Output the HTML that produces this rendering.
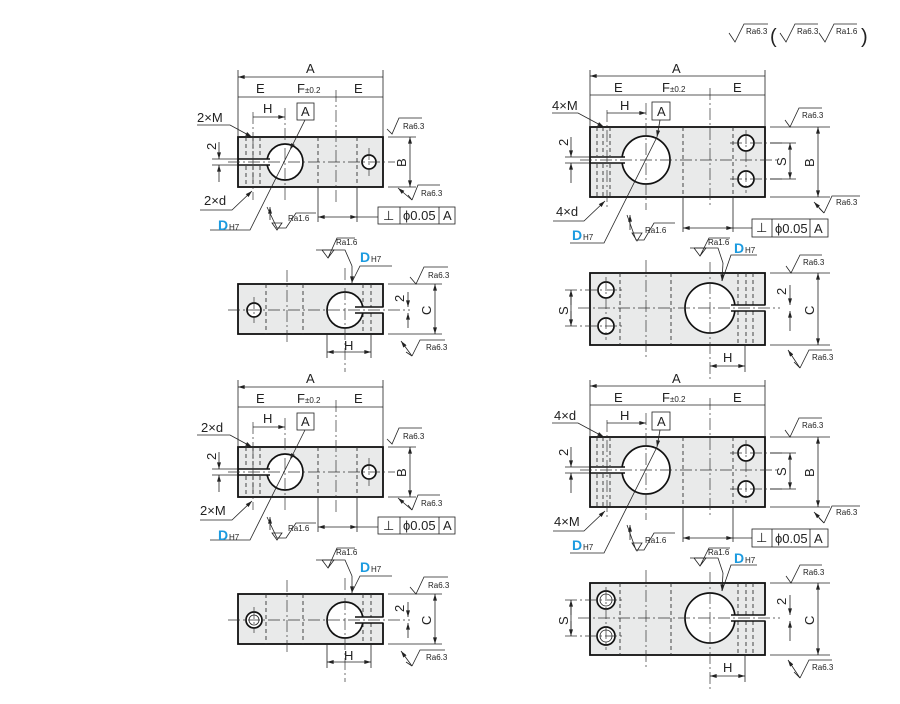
<!DOCTYPE html>
<html><head><meta charset="utf-8"><style>
html,body{margin:0;padding:0;background:#fff}
svg{display:block}
text{font-family:"Liberation Sans",sans-serif;fill:#222}
.b{fill:#e9eaea;stroke:#111;stroke-width:1.8}
.w{fill:#fff;stroke:#111;stroke-width:1.7}
.ws{fill:#fff;stroke:none}
.l{stroke:#222;stroke-width:0.8;fill:none}
.k{stroke:#111;stroke-width:1.6;fill:none}
.dh{stroke:#333;stroke-width:0.9;stroke-dasharray:4 3;fill:none}
.cl{stroke:#333;stroke-width:0.7;stroke-dasharray:12 3 2 3;fill:none}
.d{stroke:#222;stroke-width:0.8;fill:none;marker-start:url(#a);marker-end:url(#a)}
.de{stroke:#222;stroke-width:0.8;fill:none;marker-end:url(#a)}
.t{font-size:13px}
.s{font-size:8px}
.D{fill:#1b9be0;font-weight:bold;font-size:14px}
</style></head><body>
<svg width="900" height="704" viewBox="0 0 900 704" xmlns="http://www.w3.org/2000/svg">
<defs><marker id="a" viewBox="0 0 10 6" refX="10" refY="3" markerWidth="7" markerHeight="4" orient="auto-start-reverse" markerUnits="userSpaceOnUse"><path d="M0,0L10,3L0,6Z" fill="#222"/></marker></defs>

<path class="l" d="M729,33 L735,42 L744,24 H768"/><text class="s" x="746" y="34">Ra6.3</text>
<text x="770" y="43" style="font-size:20px">(</text>
<path class="l" d="M780,33 L786,42 L795,24 H818"/><text class="s" x="797" y="34">Ra6.3</text>
<path class="l" d="M819,33 L825,42 L834,24 H857"/><text class="s" x="836" y="34">Ra1.6</text>
<text x="861" y="43" style="font-size:20px">)</text>

<g id="L1">
<rect class="b" x="238" y="137" width="145" height="50"/>
<path class="dh" d="M246,137V158M253,137V158M260,137V158M246,166V187M253,166V187M260,166V187M318,137V187M357,137V187"/>
<circle class="w" cx="285" cy="162" r="18"/>
<rect class="ws" x="239" y="159.5" width="32" height="5"/>
<path class="k" d="M238,159H270M238,165H270"/>
<circle class="w" cx="369" cy="162" r="7"/>
<path class="cl" d="M228,162H395M285,108V200M336,90V205M253,112V200M369,148V176"/>
<path class="l" d="M238,70V137M383,70V137M318,187V222M357,187V222"/>
<path class="d" d="M238,77H383M238,97H285M285,97H336M336,97H383M253,117H285"/>
<text class="t" x="306" y="73">A</text><text class="t" x="256" y="93">E</text>
<text class="t" x="297" y="93">F<tspan class="s" font-size="9">±0.2</tspan></text><text class="t" x="354" y="93">E</text>
<text class="t" x="263" y="113">H</text>
<rect class="l" x="297" y="103" width="17" height="17"/><text class="t" x="301" y="116">A</text>
<path class="de" d="M305,120L290,150"/><path class="l" d="M290,150L250,230H210"/>
<text class="t" x="197" y="122">2×M</text><path class="de" d="M197,125H230L252,137"/>
<text class="t" x="204" y="205">2×d</text><path class="de" d="M200,210H232L252,191"/>
<text class="D" x="218" y="230">D</text><text class="s" x="229" y="230" font-size="9">H7</text>
<path class="de" d="M270,220V207"/><path class="l" d="M267,207L277,228H286L296,213H316M272,223H282L277,230Z"/>
<text class="s" x="288" y="221">Ra1.6</text>
<path class="l" d="M212,159H238M212,165H238"/>
<path class="de" d="M219,142V159"/><path class="de" d="M219,182V165"/>
<text class="t" transform="translate(216,150) rotate(-90)">2</text>
<path class="l" d="M388,137H416M388,187H416"/><path class="d" d="M410,137V187"/>
<text class="t" transform="translate(406,167) rotate(-90)">B</text>
<path class="l" d="M387,129L392,134L399,118H422"/><text class="s" x="403" y="129">Ra6.3</text>
<path class="de" d="M412,200L398,188"/><path class="l" d="M412,200L408,195M412,200L418,185H440"/><text class="s" x="421" y="196">Ra6.3</text>
<path class="d" d="M318,217H357"/><path class="l" d="M357,217H378"/>
<rect class="l" x="378" y="207" width="77" height="17"/><path class="l" d="M400,207V224M439,207V224"/>
<text class="t" x="383" y="220">⊥</text><text class="t" x="403" y="220">ϕ0.05</text><text class="t" x="443" y="220">A</text>
<rect class="b" x="238" y="284" width="145" height="50"/>
<path class="dh" d="M266,284V334M303,284V334M363,284V307M371,284V307M363,313V334M371,313V334"/>
<circle class="w" cx="345" cy="310" r="18"/>
<rect class="ws" x="354" y="307.5" width="30" height="5"/>
<path class="k" d="M355,307H383M355,313H383"/>
<circle class="w" cx="254" cy="310" r="7"/>
<path class="cl" d="M228,310H410M287,270V345M345,268V372M254,297V323"/>
<path class="l" d="M327,334V358M371,334V358"/><path class="d" d="M327,352H371"/><text class="t" x="344" y="350">H</text>
<path class="l" d="M388,284H442M388,334H442"/><path class="d" d="M435,284V334"/>
<text class="t" transform="translate(431,315) rotate(-90)">C</text>
<path class="de" d="M408,292V307"/><path class="de" d="M408,328V313"/>
<text class="t" transform="translate(404,302) rotate(-90)">2</text>
<path class="l" d="M410,277L416,284L424,267H448"/><text class="s" x="428" y="278">Ra6.3</text>
<path class="de" d="M412,356L401,341"/><path class="l" d="M412,356L406,352M412,356L420,340H445"/><text class="s" x="426" y="350">Ra6.3</text>
<path class="l" d="M316,250H345L352,266"/><path class="de" d="M352,266L352,283"/>
<path class="l" d="M322,250L328,258L337,238H355M322,250H334L328,258"/><text class="s" x="336" y="245">Ra1.6</text>
<path class="l" d="M352,282L360,266H392"/>
<text class="D" x="360" y="262">D</text><text class="s" x="371" y="262" font-size="9">H7</text>
</g>

<g id="R1">
<rect class="b" x="590" y="127" width="175" height="70"/>
<path class="dh" d="M597,127V156M603,127V156M610,127V156M597,164V197M603,164V197M610,164V197M683,127V197M733,127V197"/>
<circle class="w" cx="646" cy="160" r="24"/>
<rect class="ws" x="591" y="157.5" width="36" height="5"/>
<path class="k" d="M590,157H625M590,163H625"/>
<circle class="w" cx="746" cy="143" r="8"/><circle class="w" cx="746" cy="179" r="8"/>
<path class="cl" d="M580,160H780M646,103V210M710,88V208M607,110V210M730,143H782M730,179H782M746,130V193"/>
<path class="l" d="M590,70V127M765,70V127M683,197V232M733,197V232"/>
<path class="d" d="M590,76H765M590,95H646M646,95H710M710,95H765M607,113H646"/>
<text class="t" x="672" y="73">A</text><text class="t" x="614" y="92">E</text>
<text class="t" x="662" y="92">F<tspan class="s" font-size="9">±0.2</tspan></text><text class="t" x="733" y="92">E</text>
<text class="t" x="620" y="110">H</text>
<rect class="l" x="652" y="102" width="18" height="18"/><text class="t" x="657" y="116">A</text>
<path class="de" d="M660,120L657,137"/><path class="l" d="M657,137L604,243H570"/>
<text class="t" x="552" y="110">4×M</text><path class="de" d="M552,113H578L604,127"/>
<text class="t" x="556" y="216">4×d</text>
<path class="de" d="M553,221H584L605,201"/>
<text class="D" x="572" y="240">D</text><text class="s" x="583" y="240" font-size="9">H7</text>
<path class="de" d="M630,230V215"/><path class="l" d="M627,215L636,240H644L654,223H675M632,233H642L637,241Z"/>
<text class="s" x="645" y="233">Ra1.6</text>
<path class="l" d="M565,157H590M565,163H590"/>
<path class="de" d="M571,137V157"/><path class="de" d="M571,183V163"/>
<text class="t" transform="translate(568,146) rotate(-90)">2</text>
<path class="l" d="M770,127H830M770,197H830M770,143H796M770,179H796"/><path class="d" d="M818,127V197"/><path class="d" d="M790,143V179"/>
<text class="t" transform="translate(814,167) rotate(-90)">B</text>
<text class="t" transform="translate(786,166) rotate(-90)">S</text>
<path class="l" d="M785,120L790,127L799,108H822"/><text class="s" x="802" y="118">Ra6.3</text>
<path class="de" d="M824,213L814,202"/><path class="l" d="M824,213L819,208M824,213L832,196H860"/><text class="s" x="836" y="205">Ra6.3</text>
<path class="d" d="M683,228H733"/><path class="l" d="M733,228H752"/>
<rect class="l" x="752" y="219" width="76" height="18"/><path class="l" d="M772,219V237M810,219V237"/>
<text class="t" x="756" y="232">⊥</text><text class="t" x="775" y="233">ϕ0.05</text><text class="t" x="814" y="233">A</text>
<rect class="b" x="590" y="273" width="175" height="72"/>
<path class="dh" d="M620,273V345M671,273V345M738,273V305M746,273V305M753,273V305M738,311V345M746,311V345M753,311V345"/>
<circle class="w" cx="710" cy="308" r="25"/>
<rect class="ws" x="729" y="305.5" width="37" height="5"/>
<path class="k" d="M731,305H765M731,311H765"/>
<circle class="w" cx="606" cy="290" r="8"/><circle class="w" cx="606" cy="326" r="8"/>
<path class="cl" d="M578,308H780M646,260V358M710,262V380M606,277V340M565,290H625M565,326H625"/>
<path class="de" d="M571,305V290"/><path class="de" d="M571,311V326"/><path class="l" d="M571,290V326"/>
<text class="t" transform="translate(568,315) rotate(-90)">S</text>
<path class="l" d="M745,345V372"/><path class="d" d="M710,366H745"/><text class="t" x="723" y="362">H</text>
<path class="l" d="M770,273H830M770,345H830"/><path class="d" d="M818,273V345"/>
<text class="t" transform="translate(814,315) rotate(-90)">C</text>
<path class="de" d="M790,285V305"/><path class="de" d="M790,331V311"/>
<text class="t" transform="translate(786,295) rotate(-90)">2</text>
<path class="l" d="M786,266L791,273L800,255H822"/><text class="s" x="803" y="265">Ra6.3</text>
<path class="de" d="M800,368L788,350"/><path class="l" d="M800,368L794,362M800,368L809,350H832"/><text class="s" x="812" y="360">Ra6.3</text>
<path class="l" d="M694,248L700,256L709,238H730M694,248H706L700,256"/><text class="s" x="708" y="245">Ra1.6</text>
<path class="l" d="M690,248H718L723,263"/><path class="de" d="M723,263L722,281"/>
<path class="l" d="M722,281L731,255H757"/>
<text class="D" x="734" y="253">D</text><text class="s" x="745" y="253" font-size="9">H7</text>
</g>

<g transform="translate(0,310)">
<rect class="b" x="238" y="137" width="145" height="50"/>
<path class="dh" d="M246,137V158M253,137V158M260,137V158M246,166V187M253,166V187M260,166V187M318,137V187M357,137V187"/>
<circle class="w" cx="285" cy="162" r="18"/>
<rect class="ws" x="239" y="159.5" width="32" height="5"/>
<path class="k" d="M238,159H270M238,165H270"/>
<circle class="w" cx="369" cy="162" r="7"/>
<path class="cl" d="M228,162H395M285,108V200M336,90V205M253,112V200M369,148V176"/>
<path class="l" d="M238,70V137M383,70V137M318,187V222M357,187V222"/>
<path class="d" d="M238,77H383M238,97H285M285,97H336M336,97H383M253,117H285"/>
<text class="t" x="306" y="73">A</text><text class="t" x="256" y="93">E</text>
<text class="t" x="297" y="93">F<tspan class="s" font-size="9">±0.2</tspan></text><text class="t" x="354" y="93">E</text>
<text class="t" x="263" y="113">H</text>
<rect class="l" x="297" y="103" width="17" height="17"/><text class="t" x="301" y="116">A</text>
<path class="de" d="M305,120L290,150"/><path class="l" d="M290,150L250,230H210"/>
<text class="t" x="201" y="122">2×d</text><path class="de" d="M197,125H230L252,137"/>
<text class="t" x="200" y="205">2×M</text><path class="de" d="M200,210H232L252,191"/>
<text class="D" x="218" y="230">D</text><text class="s" x="229" y="230" font-size="9">H7</text>
<path class="de" d="M270,220V207"/><path class="l" d="M267,207L277,228H286L296,213H316M272,223H282L277,230Z"/>
<text class="s" x="288" y="221">Ra1.6</text>
<path class="l" d="M212,159H238M212,165H238"/>
<path class="de" d="M219,142V159"/><path class="de" d="M219,182V165"/>
<text class="t" transform="translate(216,150) rotate(-90)">2</text>
<path class="l" d="M388,137H416M388,187H416"/><path class="d" d="M410,137V187"/>
<text class="t" transform="translate(406,167) rotate(-90)">B</text>
<path class="l" d="M387,129L392,134L399,118H422"/><text class="s" x="403" y="129">Ra6.3</text>
<path class="de" d="M412,200L398,188"/><path class="l" d="M412,200L408,195M412,200L418,185H440"/><text class="s" x="421" y="196">Ra6.3</text>
<path class="d" d="M318,217H357"/><path class="l" d="M357,217H378"/>
<rect class="l" x="378" y="207" width="77" height="17"/><path class="l" d="M400,207V224M439,207V224"/>
<text class="t" x="383" y="220">⊥</text><text class="t" x="403" y="220">ϕ0.05</text><text class="t" x="443" y="220">A</text>
<rect class="b" x="238" y="284" width="145" height="50"/>
<path class="dh" d="M266,284V334M303,284V334M363,284V307M371,284V307M363,313V334M371,313V334"/>
<circle class="w" cx="345" cy="310" r="18"/>
<rect class="ws" x="354" y="307.5" width="30" height="5"/>
<path class="k" d="M355,307H383M355,313H383"/>
<circle class="w" cx="254" cy="310" r="8"/><circle class="l" cx="254" cy="310" r="5"/>
<path class="cl" d="M228,310H410M287,270V345M345,268V372M254,297V323"/>
<path class="l" d="M327,334V358M371,334V358"/><path class="d" d="M327,352H371"/><text class="t" x="344" y="350">H</text>
<path class="l" d="M388,284H442M388,334H442"/><path class="d" d="M435,284V334"/>
<text class="t" transform="translate(431,315) rotate(-90)">C</text>
<path class="de" d="M408,292V307"/><path class="de" d="M408,328V313"/>
<text class="t" transform="translate(404,302) rotate(-90)">2</text>
<path class="l" d="M410,277L416,284L424,267H448"/><text class="s" x="428" y="278">Ra6.3</text>
<path class="de" d="M412,356L401,341"/><path class="l" d="M412,356L406,352M412,356L420,340H445"/><text class="s" x="426" y="350">Ra6.3</text>
<path class="l" d="M316,250H345L352,266"/><path class="de" d="M352,266L352,283"/>
<path class="l" d="M322,250L328,258L337,238H355M322,250H334L328,258"/><text class="s" x="336" y="245">Ra1.6</text>
<path class="l" d="M352,282L360,266H392"/>
<text class="D" x="360" y="262">D</text><text class="s" x="371" y="262" font-size="9">H7</text>

<rect class="b" x="590" y="127" width="175" height="70"/>
<path class="dh" d="M597,127V156M603,127V156M610,127V156M597,164V197M603,164V197M610,164V197M683,127V197M733,127V197"/>
<circle class="w" cx="646" cy="160" r="24"/>
<rect class="ws" x="591" y="157.5" width="36" height="5"/>
<path class="k" d="M590,157H625M590,163H625"/>
<circle class="w" cx="746" cy="143" r="8"/><circle class="w" cx="746" cy="179" r="8"/>
<path class="cl" d="M580,160H780M646,103V210M710,88V208M607,110V210M730,143H782M730,179H782M746,130V193"/>
<path class="l" d="M590,70V127M765,70V127M683,197V232M733,197V232"/>
<path class="d" d="M590,76H765M590,95H646M646,95H710M710,95H765M607,113H646"/>
<text class="t" x="672" y="73">A</text><text class="t" x="614" y="92">E</text>
<text class="t" x="662" y="92">F<tspan class="s" font-size="9">±0.2</tspan></text><text class="t" x="733" y="92">E</text>
<text class="t" x="620" y="110">H</text>
<rect class="l" x="652" y="102" width="18" height="18"/><text class="t" x="657" y="116">A</text>
<path class="de" d="M660,120L657,137"/><path class="l" d="M657,137L604,243H570"/>
<text class="t" x="554" y="110">4×d</text><path class="de" d="M552,113H578L604,127"/>
<text class="t" x="554" y="216">4×M</text>
<path class="de" d="M553,221H584L605,201"/>
<text class="D" x="572" y="240">D</text><text class="s" x="583" y="240" font-size="9">H7</text>
<path class="de" d="M630,230V215"/><path class="l" d="M627,215L636,240H644L654,223H675M632,233H642L637,241Z"/>
<text class="s" x="645" y="233">Ra1.6</text>
<path class="l" d="M565,157H590M565,163H590"/>
<path class="de" d="M571,137V157"/><path class="de" d="M571,183V163"/>
<text class="t" transform="translate(568,146) rotate(-90)">2</text>
<path class="l" d="M770,127H830M770,197H830M770,143H796M770,179H796"/><path class="d" d="M818,127V197"/><path class="d" d="M790,143V179"/>
<text class="t" transform="translate(814,167) rotate(-90)">B</text>
<text class="t" transform="translate(786,166) rotate(-90)">S</text>
<path class="l" d="M785,120L790,127L799,108H822"/><text class="s" x="802" y="118">Ra6.3</text>
<path class="de" d="M824,213L814,202"/><path class="l" d="M824,213L819,208M824,213L832,196H860"/><text class="s" x="836" y="205">Ra6.3</text>
<path class="d" d="M683,228H733"/><path class="l" d="M733,228H752"/>
<rect class="l" x="752" y="219" width="76" height="18"/><path class="l" d="M772,219V237M810,219V237"/>
<text class="t" x="756" y="232">⊥</text><text class="t" x="775" y="233">ϕ0.05</text><text class="t" x="814" y="233">A</text>
<rect class="b" x="590" y="273" width="175" height="72"/>
<path class="dh" d="M620,273V345M671,273V345M738,273V305M746,273V305M753,273V305M738,311V345M746,311V345M753,311V345"/>
<circle class="w" cx="710" cy="308" r="25"/>
<rect class="ws" x="729" y="305.5" width="37" height="5"/>
<path class="k" d="M731,305H765M731,311H765"/>
<circle class="w" cx="606" cy="290" r="9"/><circle class="l" cx="606" cy="290" r="6"/>
<circle class="w" cx="606" cy="326" r="9"/><circle class="l" cx="606" cy="326" r="6"/>
<path class="cl" d="M578,308H780M646,260V358M710,262V380M606,277V340M565,290H625M565,326H625"/>
<path class="de" d="M571,305V290"/><path class="de" d="M571,311V326"/><path class="l" d="M571,290V326"/>
<text class="t" transform="translate(568,315) rotate(-90)">S</text>
<path class="l" d="M745,345V372"/><path class="d" d="M710,366H745"/><text class="t" x="723" y="362">H</text>
<path class="l" d="M770,273H830M770,345H830"/><path class="d" d="M818,273V345"/>
<text class="t" transform="translate(814,315) rotate(-90)">C</text>
<path class="de" d="M790,285V305"/><path class="de" d="M790,331V311"/>
<text class="t" transform="translate(786,295) rotate(-90)">2</text>
<path class="l" d="M786,266L791,273L800,255H822"/><text class="s" x="803" y="265">Ra6.3</text>
<path class="de" d="M800,368L788,350"/><path class="l" d="M800,368L794,362M800,368L809,350H832"/><text class="s" x="812" y="360">Ra6.3</text>
<path class="l" d="M694,248L700,256L709,238H730M694,248H706L700,256"/><text class="s" x="708" y="245">Ra1.6</text>
<path class="l" d="M690,248H718L723,263"/><path class="de" d="M723,263L722,281"/>
<path class="l" d="M722,281L731,255H757"/>
<text class="D" x="734" y="253">D</text><text class="s" x="745" y="253" font-size="9">H7</text>
</g>
</svg>
</body></html>
